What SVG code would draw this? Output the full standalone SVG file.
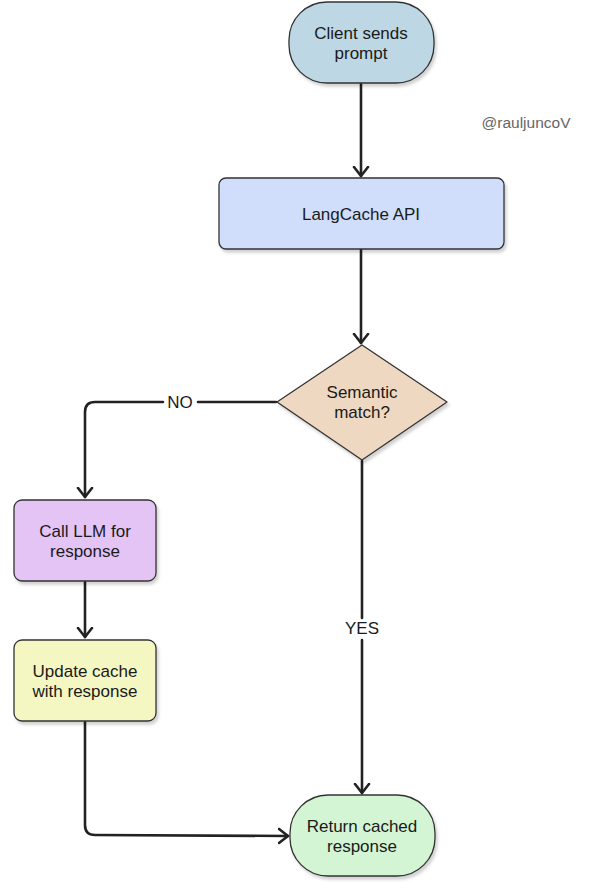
<svg xmlns="http://www.w3.org/2000/svg" width="593" height="891" viewBox="0 0 593 891">
<defs>
<filter id="sh" x="-10%" y="-10%" width="130%" height="130%">
<feDropShadow dx="2" dy="3" stdDeviation="1.5" flood-color="#000" flood-opacity="0.18"/>
</filter>
<marker id="ah" markerUnits="userSpaceOnUse" markerWidth="20" markerHeight="20" refX="10" refY="8" orient="auto" viewBox="0 0 20 16">
<path d="M1,1 L10,8 L1,15" fill="none" stroke="#222" stroke-width="2.6" stroke-linecap="round" stroke-linejoin="round"/>
</marker>
<style>
.n{stroke:#333;stroke-width:1.3;filter:url(#sh)}
.t{font-family:"Liberation Sans",Arial,sans-serif;font-size:17px;fill:#1a1a1a;text-anchor:middle}
.l{font-family:"Liberation Sans",Arial,sans-serif;font-size:17px;fill:#1a1a1a;text-anchor:middle}
.c{fill:none;stroke:#222;stroke-width:2.6;stroke-linecap:round;stroke-linejoin:round}
</style>
</defs>
<rect width="593" height="891" fill="#fff"/>
<g id="connectors">
<path class="c" d="M361,84 L361,176" marker-end="url(#ah)"/>
<path class="c" d="M361,250 L361,343" marker-end="url(#ah)"/>
<path class="c" d="M276,402 L198,402 M163,402 L95,402 Q85,402 85,412 L85,497" marker-end="url(#ah)"/>
<path class="c" d="M85,582 L85,637" marker-end="url(#ah)"/>
<path class="c" d="M362,461 L362,618 M362,640 L362,793" marker-end="url(#ah)"/>
<path class="c" d="M85,722 L85,825 Q85,835 95,835 L288,836" marker-end="url(#ah)"/>
<text class="l" x="180" y="408">NO</text>
<text class="l" x="362" y="634">YES</text>
</g>
<g id="client">
<rect class="n" x="289" y="2" width="145" height="81" rx="38" fill="#bdd7e4"/>
<text class="t" x="361" y="39">Client sends</text>
<text class="t" x="361" y="59">prompt</text>
</g>
<g id="langcache">
<rect class="n" x="219" y="178" width="285" height="71" rx="7" fill="#d0defb"/>
<text class="t" x="361" y="220">LangCache API</text>
</g>
<g id="semantic">
<path class="n" d="M362,345 L447,402 L362,460 L277,402 Z" fill="#efd8c1" stroke-linejoin="round"/>
<text class="t" x="362" y="398">Semantic</text>
<text class="t" x="362" y="418">match?</text>
</g>
<g id="callllm">
<rect class="n" x="14" y="500" width="142" height="81" rx="8" fill="#e4c3f5"/>
<text class="t" x="85" y="537">Call LLM for</text>
<text class="t" x="85" y="557">response</text>
</g>
<g id="update">
<rect class="n" x="14" y="640" width="142" height="81" rx="8" fill="#f5f7c2"/>
<text class="t" x="85" y="677">Update cache</text>
<text class="t" x="85" y="697">with response</text>
</g>
<g id="return">
<rect class="n" x="290" y="795" width="145" height="81" rx="38" fill="#d4f5d3"/>
<text class="t" x="362" y="832">Return cached</text>
<text class="t" x="362" y="852">response</text>
</g>
<g id="watermark">
<text x="526" y="128" font-family="'Liberation Sans',Arial,sans-serif" font-size="15.5" fill="#666" text-anchor="middle">@rauljuncoV</text>
</g>
</svg>
